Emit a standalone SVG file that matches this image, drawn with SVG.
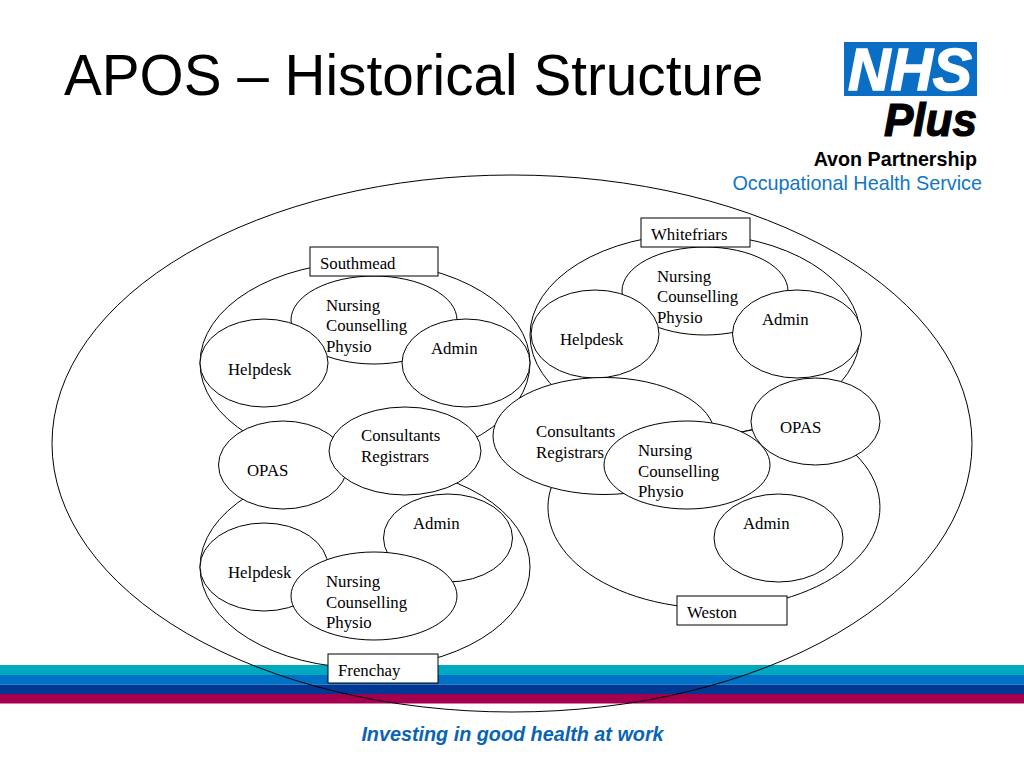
<svg xmlns="http://www.w3.org/2000/svg" width="1024" height="768" viewBox="0 0 1024 768">
<style>
.n{fill:#fff;stroke:#000;stroke-width:1}
.o{fill:none;stroke:#000;stroke-width:1}
.t{font-family:"Liberation Serif",serif;font-size:16.800px;fill:#000}
.s{font-family:"Liberation Sans",sans-serif}
</style>
<rect width="1024" height="768" fill="#fff"/>
<g id="bands">
<rect x="0" y="665" width="1024" height="10" fill="#00A8C2"/>
<rect x="0" y="675" width="1024" height="9.500" fill="#0072C6"/>
<rect x="0" y="684.500" width="1024" height="9.500" fill="#003893"/>
<rect x="0" y="694" width="1024" height="9.500" fill="#A50050"/>
</g>
<text x="64" y="94.500" class="s" font-size="56.700" fill="#000">APOS – Historical Structure</text>
<g id="logo">
<rect x="844" y="42" width="133" height="54" fill="#0A6EC4"/>
<text x="910" y="90" class="s" font-size="60" font-weight="bold" font-style="italic" fill="#fff" stroke="#fff" stroke-width="1.500" text-anchor="middle" textLength="124" lengthAdjust="spacingAndGlyphs">NHS</text>
<text x="977" y="136" class="s" font-size="46" font-weight="bold" font-style="italic" fill="#000" stroke="#000" stroke-width="1.200" text-anchor="end" textLength="93" lengthAdjust="spacingAndGlyphs">Plus</text>
<text x="977" y="166" class="s" font-size="19.700" font-weight="bold" fill="#000" text-anchor="end">Avon Partnership</text>
<text x="982" y="190" class="s" font-size="19.800" fill="#1277C0" text-anchor="end">Occupational Health Service</text>
</g>
<g id="connectors"></g>
<g id="apos"><ellipse class="o" cx="512" cy="443.500" rx="460" ry="268.500"/></g>
<g id="southmead-site"><ellipse class="n" cx="365" cy="363" rx="165" ry="101"/></g>
<g id="whitefriars-site"><ellipse class="n" cx="695" cy="335" rx="165" ry="101"/></g>
<g id="frenchay-site"><ellipse class="n" cx="365" cy="567" rx="165" ry="101"/></g>
<g id="weston-site"><path class="n" d="M551 488A166 101 0 1 0 855 454L752 430L700 440Z"/></g>

<g id="s-nursing"><ellipse class="n" cx="374" cy="320" rx="83" ry="44"/><text class="t"><tspan x="326" y="311">Nursing</tspan><tspan x="326" y="331">Counselling</tspan><tspan x="326" y="352">Physio</tspan></text></g>
<g id="s-helpdesk"><ellipse class="n" cx="264" cy="363" rx="64" ry="44"/><text class="t" x="228" y="375">Helpdesk</text></g>
<g id="s-admin"><ellipse class="n" cx="466" cy="363" rx="64" ry="44"/><text class="t" x="431" y="354">Admin</text></g>
<g id="s-label"><rect class="n" x="310" y="247" width="128" height="29"/><text class="t" x="320" y="269">Southmead</text></g>

<g id="w-nursing"><ellipse class="n" cx="705" cy="291" rx="83" ry="44"/><text class="t"><tspan x="657" y="282">Nursing</tspan><tspan x="657" y="302">Counselling</tspan><tspan x="657" y="323">Physio</tspan></text></g>
<g id="w-helpdesk"><ellipse class="n" cx="595" cy="334" rx="64" ry="44"/><text class="t" x="560" y="345">Helpdesk</text></g>
<g id="w-admin"><ellipse class="n" cx="797" cy="334" rx="64.500" ry="44"/><text class="t" x="762" y="325">Admin</text></g>
<g id="w-label"><rect class="n" x="641" y="218" width="109" height="29"/><text class="t" x="651" y="240">Whitefriars</text></g>

<g id="f-admin"><ellipse class="n" cx="448" cy="538" rx="64.500" ry="44"/><text class="t" x="413" y="529">Admin</text></g>
<g id="f-helpdesk"><ellipse class="n" cx="264" cy="567" rx="64" ry="44"/><text class="t" x="228" y="578">Helpdesk</text></g>
<g id="f-nursing"><ellipse class="n" cx="374" cy="596" rx="83" ry="44"/><text class="t"><tspan x="326" y="587">Nursing</tspan><tspan x="326" y="608">Counselling</tspan><tspan x="326" y="628">Physio</tspan></text></g>
<g id="f-label"><rect class="n" x="328" y="654" width="110" height="29"/><text class="t" x="338" y="676">Frenchay</text></g>

<g id="l-opas"><ellipse class="n" cx="283" cy="465" rx="64.500" ry="44"/><text class="t" x="247" y="476">OPAS</text></g>
<g id="l-consultants"><ellipse class="n" cx="405" cy="451" rx="76" ry="44"/><text class="t"><tspan x="361" y="441">Consultants</tspan><tspan x="361" y="462">Registrars</tspan></text></g>

<g id="r-consultants"><ellipse class="n" cx="604" cy="436" rx="111" ry="58.500"/><text class="t"><tspan x="536" y="437">Consultants</tspan><tspan x="536" y="458">Registrars</tspan></text></g>
<g id="r-opas"><ellipse class="n" cx="815.500" cy="421.500" rx="64.500" ry="43.500"/><text class="t" x="780" y="433">OPAS</text></g>
<g id="r-nursing"><ellipse class="n" cx="687" cy="465" rx="83" ry="44"/><text class="t"><tspan x="638" y="456">Nursing</tspan><tspan x="638" y="477">Counselling</tspan><tspan x="638" y="497">Physio</tspan></text></g>
<g id="r-admin"><ellipse class="n" cx="778.500" cy="538" rx="64.500" ry="44"/><text class="t" x="743" y="529">Admin</text></g>
<g id="r-label"><rect class="n" x="677" y="596" width="110" height="29"/><text class="t" x="687" y="618">Weston</text></g>

<text x="512.500" y="741" class="s" font-size="19.800" font-weight="bold" font-style="italic" fill="#0A64B4" text-anchor="middle">Investing in good health at work</text>
</svg>
